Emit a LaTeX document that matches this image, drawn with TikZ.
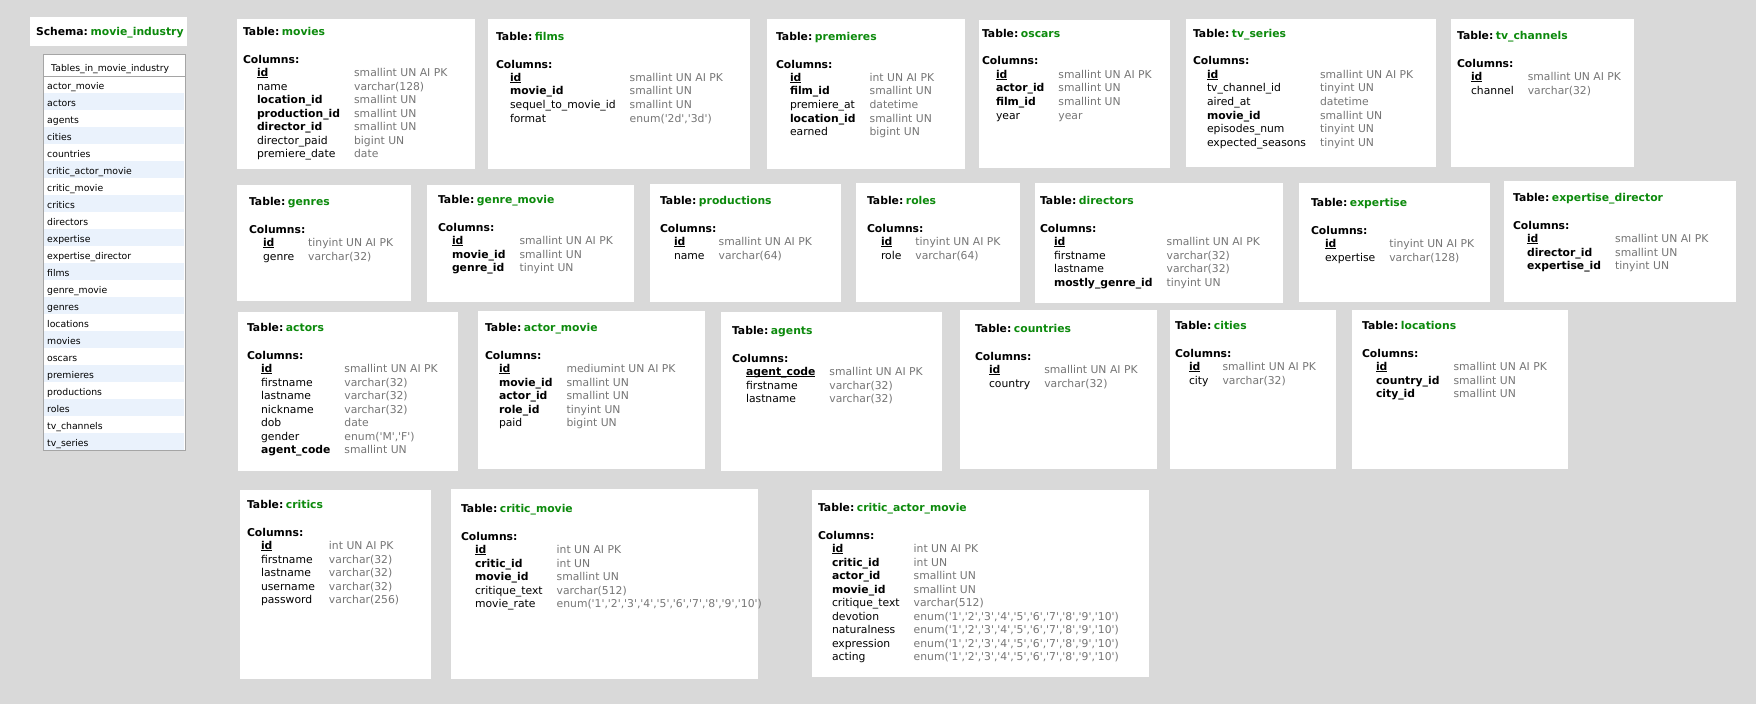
\documentclass[tikz,border=0pt]{standalone}
\usepackage{fontspec}
\setmainfont{DejaVu Sans}[Ligatures=TeXOff]
\usetikzlibrary{fit}
\definecolor{bgc}{RGB}{217,217,217}
\definecolor{tgreen}{RGB}{12,138,12}
\definecolor{tygray}{RGB}{118,118,118}
\definecolor{rowblue}{RGB}{234,242,252}
\definecolor{lborder}{RGB}{165,165,165}
\newcommand\pkname[1]{\setbox0=\hbox{\textbf{#1}}\rlap{\rule[-1.7pt]{\wd0}{0.9pt}}\box0}
\newcommand\ty[1]{\textcolor{tygray}{#1}}
\newcommand\pk[2]{\pkname{#1} & \ty{#2}\\}
\newcommand\fk[2]{\textbf{#1} & \ty{#2}\\}
\newcommand\co[2]{#1 & \ty{#2}\\}
\newcommand\enumten{enum('1','2','3','4','5','6','7','8','9','10')}
\tikzset{
  tbox/.style={inner sep=0pt, outer sep=0pt, fill=white, draw=none},
  ttext/.style={anchor=base west, inner sep=0pt, outer sep=0pt, font=\fontsize{10.8}{13.5}\selectfont},
  listtext/.style={anchor=base west, inner sep=0pt, font=\fontsize{9.3}{11}\selectfont},
}
% #1 node name, #2 x1, #3 y1, #4 x2, #5 y2, #6 title x, #7 title y, #8 rows
\newcommand\dbtable[8]{%
  \node[tbox, fit={(#2,#3) (#4,#5)}] (#1) {};
  \node[ttext] (#1-text) at (#6,#7) {\begin{tabular}[t]{@{}l@{}}%
    \textbf{Table:}\hspace{2.6pt}\textcolor{tgreen}{\textbf{\detokenize{#1}}}\\[14.5pt]
    \textbf{Columns:}\\
    \hspace{14pt}\begin{tabular}[t]{@{}l@{\hspace{14pt}}l@{}}#8\end{tabular}
  \end{tabular}};
}
\begin{document}
\begin{tikzpicture}[x=1pt,y=-1pt]
\fill[bgc] (0,0) rectangle (1756,704);
\useasboundingbox (0,0) rectangle (1756,704);

% schema title
\node[tbox, fit={(30,17) (187,46)}] (schema) {};
\node[ttext] (schema-text) at (36,35) {\textbf{Schema:}\hspace{2.6pt}\textcolor{tgreen}{\textbf{movie\_industry}}};

% tables list
\fill[white] (43,54) rectangle (185,450);
\foreach \t [count=\i from 0] in {actor\_movie, actors, agents, cities, countries, critic\_actor\_movie, critic\_movie, critics, directors, expertise, expertise\_director, films, genre\_movie, genres, locations, movies, oscars, premieres, productions, roles, tv\_channels, tv\_series}{
  \pgfmathsetmacro\ry{76+17*\i}
  \ifodd\i \fill[rowblue] (44,\ry) rectangle (184,\ry+17); \fi
  \node[listtext] (listrow\i) at (47,\ry+13) {\t};
}
\draw[lborder, line width=0.8pt] (43,54) rectangle (185,450);
\draw[lborder, line width=0.8pt] (43,76) -- (185,76);
\node[listtext] (listhead) at (51,71) {Tables\_in\_movie\_industry};

% row 1
\dbtable{movies}{237}{19}{475}{169}{243}{35}{%
  \pk{id}{smallint UN AI PK}
  \co{name}{varchar(128)}
  \fk{location\_id}{smallint UN}
  \fk{production\_id}{smallint UN}
  \fk{director\_id}{smallint UN}
  \co{director\_paid}{bigint UN}
  \co{premiere\_date}{date}}
\dbtable{films}{488}{19}{750}{169}{496}{40}{%
  \pk{id}{smallint UN AI PK}
  \fk{movie\_id}{smallint UN}
  \co{sequel\_to\_movie\_id}{smallint UN}
  \co{format}{enum('2d','3d')}}
\dbtable{premieres}{767}{19}{965}{169}{776}{40}{%
  \pk{id}{int UN AI PK}
  \fk{film\_id}{smallint UN}
  \co{premiere\_at}{datetime}
  \fk{location\_id}{smallint UN}
  \co{earned}{bigint UN}}
\dbtable{oscars}{979}{20}{1170}{168}{982}{37}{%
  \pk{id}{smallint UN AI PK}
  \fk{actor\_id}{smallint UN}
  \fk{film\_id}{smallint UN}
  \co{year}{year}}
\dbtable{tv_series}{1186}{19}{1436}{167}{1193}{37}{%
  \pk{id}{smallint UN AI PK}
  \co{tv\_channel\_id}{tinyint UN}
  \co{aired\_at}{datetime}
  \fk{movie\_id}{smallint UN}
  \co{episodes\_num}{tinyint UN}
  \co{expected\_seasons}{tinyint UN}}
\dbtable{tv_channels}{1451}{19}{1634}{167}{1457}{39}{%
  \pk{id}{smallint UN AI PK}
  \co{channel}{varchar(32)}}

% row 2
\dbtable{genres}{237}{185}{411}{301}{249}{205}{%
  \pk{id}{tinyint UN AI PK}
  \co{genre}{varchar(32)}}
\dbtable{genre_movie}{427}{185}{634}{302}{438}{203}{%
  \pk{id}{smallint UN AI PK}
  \fk{movie\_id}{smallint UN}
  \fk{genre\_id}{tinyint UN}}
\dbtable{productions}{650}{184}{841}{302}{660}{204}{%
  \pk{id}{smallint UN AI PK}
  \co{name}{varchar(64)}}
\dbtable{roles}{856}{183}{1020}{302}{867}{204}{%
  \pk{id}{tinyint UN AI PK}
  \co{role}{varchar(64)}}
\dbtable{directors}{1035}{183}{1283}{303}{1040}{204}{%
  \pk{id}{smallint UN AI PK}
  \co{firstname}{varchar(32)}
  \co{lastname}{varchar(32)}
  \fk{mostly\_genre\_id}{tinyint UN}}
\dbtable{expertise}{1299}{183}{1490}{302}{1311}{206}{%
  \pk{id}{tinyint UN AI PK}
  \co{expertise}{varchar(128)}}
\dbtable{expertise_director}{1504}{181}{1736}{302}{1513}{201}{%
  \pk{id}{smallint UN AI PK}
  \fk{director\_id}{smallint UN}
  \fk{expertise\_id}{tinyint UN}}

% row 3
\dbtable{actors}{238}{312}{458}{471}{247}{331}{%
  \pk{id}{smallint UN AI PK}
  \co{firstname}{varchar(32)}
  \co{lastname}{varchar(32)}
  \co{nickname}{varchar(32)}
  \co{dob}{date}
  \co{gender}{enum('M','F')}
  \fk{agent\_code}{smallint UN}}
\dbtable{actor_movie}{478}{311}{705}{469}{485}{331}{%
  \pk{id}{mediumint UN AI PK}
  \fk{movie\_id}{smallint UN}
  \fk{actor\_id}{smallint UN}
  \fk{role\_id}{tinyint UN}
  \co{paid}{bigint UN}}
\dbtable{agents}{721}{312}{942}{471}{732}{334}{%
  \pk{agent\_code}{smallint UN AI PK}
  \co{firstname}{varchar(32)}
  \co{lastname}{varchar(32)}}
\dbtable{countries}{960}{310}{1157}{469}{975}{332}{%
  \pk{id}{smallint UN AI PK}
  \co{country}{varchar(32)}}
\dbtable{cities}{1170}{310}{1336}{469}{1175}{329}{%
  \pk{id}{smallint UN AI PK}
  \co{city}{varchar(32)}}
\dbtable{locations}{1352}{310}{1568}{469}{1362}{329}{%
  \pk{id}{smallint UN AI PK}
  \fk{country\_id}{smallint UN}
  \fk{city\_id}{smallint UN}}

% row 4
\dbtable{critics}{240}{490}{431}{679}{247}{508}{%
  \pk{id}{int UN AI PK}
  \co{firstname}{varchar(32)}
  \co{lastname}{varchar(32)}
  \co{username}{varchar(32)}
  \co{password}{varchar(256)}}
\dbtable{critic_movie}{451}{489}{758}{679}{461}{512}{%
  \pk{id}{int UN AI PK}
  \fk{critic\_id}{int UN}
  \fk{movie\_id}{smallint UN}
  \co{critique\_text}{varchar(512)}
  \co{movie\_rate}{\enumten}}
\dbtable{critic_actor_movie}{812}{490}{1149}{677}{818}{511}{%
  \pk{id}{int UN AI PK}
  \fk{critic\_id}{int UN}
  \fk{actor\_id}{smallint UN}
  \fk{movie\_id}{smallint UN}
  \co{critique\_text}{varchar(512)}
  \co{devotion}{\enumten}
  \co{naturalness}{\enumten}
  \co{expression}{\enumten}
  \co{acting}{\enumten}}
\end{tikzpicture}
\end{document}
